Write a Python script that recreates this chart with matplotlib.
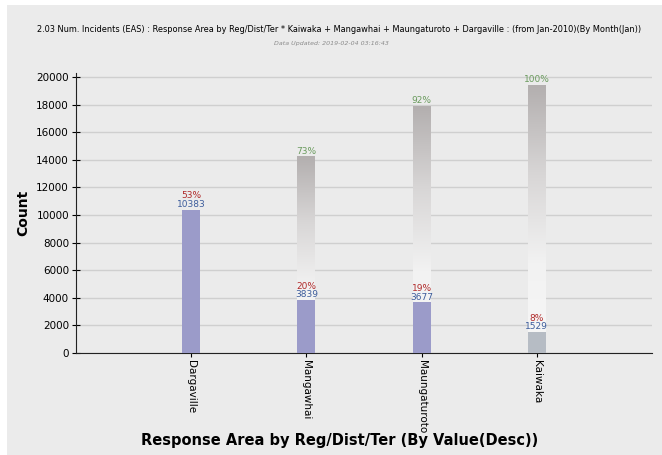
import numpy as np
import matplotlib
matplotlib.use('Agg')
import matplotlib.pyplot as plt
from matplotlib.patches import Rectangle
from matplotlib.colors import LinearSegmentedColormap

areas = ['Dargaville', 'Mangawhai', 'Maungaturoto', 'Kaiwaka']
counts = [10383, 3839, 3677, 1529]
cumulative = [10383, 14222, 17899, 19428]
count_pct = ['53%', '20%', '19%', '8%']
cum_pct = ['53%', '73%', '92%', '100%']
yticks = [0, 2000, 4000, 6000, 8000, 10000, 12000, 14000, 16000, 18000, 20000]

title = ('2.03 Num. Incidents (EAS) : Response Area by Reg/Dist/Ter * Kaiwaka + Mangawhai + '
         'Maungaturoto + Dargaville : (from Jan-2010)(By Month(Jan))')
subtitle = 'Data Updated: 2019-02-04 03:16:43'

bg = '#ebebeb'
bar_colors = ['#9b9bc9', '#9b9bc9', '#9b9bc9', '#b6bcc4']
bar_w = 0.156

fig = plt.figure(figsize=(6.62, 4.55), dpi=100)
fig.patch.set_facecolor('white')
fig.patches.append(Rectangle((7/662, 0), 1, 1 - 5/455, transform=fig.transFigure,
                             facecolor=bg, edgecolor='none', zorder=-10))

ax = fig.add_axes([76/662, 1 - 353/455, 576/662, 280/455])
ax.set_facecolor(bg)
ax.patch.set_alpha(0)

x = np.arange(1, len(areas) + 1)

# cumulative bars with vertical gradient (grey top -> white bottom)
cmap = LinearSegmentedColormap.from_list('g', ['#f7f7f7', '#f2f2f2', '#d8d6d6', '#b3afaf'])
grad = np.linspace(0, 1, 256).reshape(-1, 1)
for i in range(len(areas)):
    if cumulative[i] > counts[i]:
        ax.imshow(grad, cmap=cmap, aspect='auto', origin='lower',
                  extent=(x[i] - bar_w / 2, x[i] + bar_w / 2, 0, cumulative[i]), zorder=2)
        ax.text(x[i], cumulative[i] + 80, cum_pct[i], ha='center', va='bottom',
                fontsize=6.5, color='#6b9b5e', zorder=5)

ax.bar(x, counts, width=bar_w, color=bar_colors, zorder=3)
for i in range(len(areas)):
    ax.text(x[i], counts[i] + 40, str(counts[i]), ha='center', va='bottom',
            fontsize=6.5, color='#3d5d9c', zorder=5)
    ax.text(x[i], counts[i] + 680, count_pct[i], ha='center', va='bottom',
            fontsize=6.5, color='#b02a2a', zorder=5)

ax.set_xlim(0, 5)
ax.set_ylim(0, 20300)
ax.set_yticks(yticks)
ax.set_yticklabels([str(v) for v in yticks], fontsize=7.5)
ax.set_xticks(x)
ax.set_xticklabels(areas, rotation=-90, fontsize=7.5, va='top', ha='center')
ax.tick_params(axis='y', direction='inout', length=6, width=0.8, pad=2)
ax.tick_params(axis='x', direction='out', length=3, width=0.8, pad=2)
ax.yaxis.grid(True, color='#cfcfcf', linewidth=1, zorder=0)
ax.set_axisbelow(True)
for s in ['top', 'right']:
    ax.spines[s].set_visible(False)
ax.spines['left'].set_color('#222222')
ax.spines['bottom'].set_color('#222222')

ax.set_ylabel('Count', fontsize=10, fontweight='bold', labelpad=4)
fig.text(340/662, 1 - 440/455, 'Response Area by Reg/Dist/Ter (By Value(Desc))',
         ha='center', va='center', fontsize=10.5, fontweight='bold')

fig.text(339/662, 1 - 30/455, title, ha='center', va='center', fontsize=6.6,
         fontstretch='condensed', family='DejaVu Sans')
fig.text(331/662, 1 - 44/455, subtitle, ha='center', va='center', fontsize=4.5,
         color='#8a8a8a', fontstyle='italic')

plt.savefig('out.png', dpi=100, facecolor=fig.get_facecolor())
